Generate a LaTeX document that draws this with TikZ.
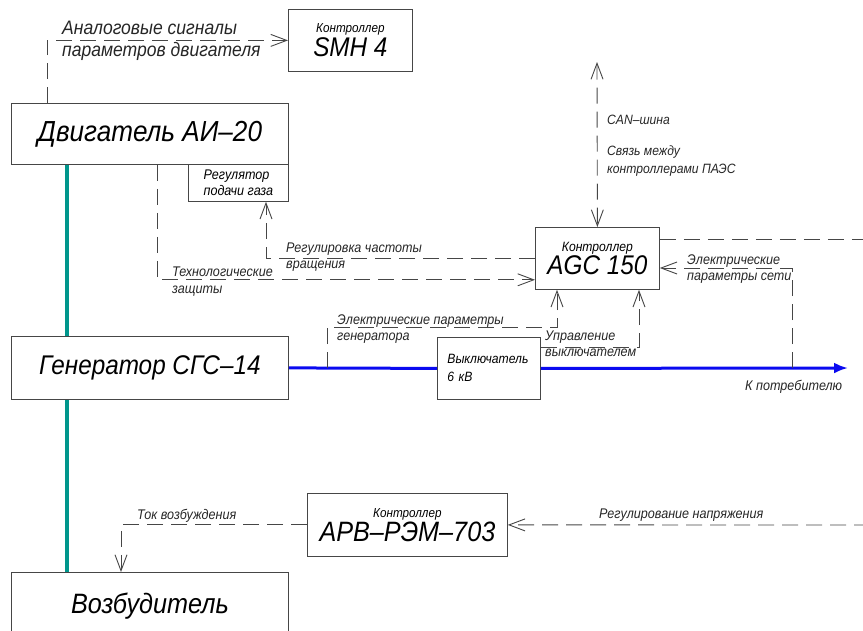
\documentclass[tikz,border=0pt]{standalone}
\usepackage{fontspec}
\setmainfont{Liberation Sans}[FakeStretch=0.9]
\usetikzlibrary{arrows.meta,calc}

\definecolor{linegray}{RGB}{70,70,70}
\definecolor{shaftcol}{RGB}{0,150,140}
\definecolor{buscol}{RGB}{10,10,240}
\newcommand{\setfs}[2]{\fontsize{#1}{#2}\selectfont}

\tikzset{
  box/.style={draw=linegray, line width=0.8pt, anchor=north west, inner sep=0pt, align=center},
  sig/.style={draw=linegray, line width=0.9pt, dash pattern=on 16pt off 8pt},
  barb/.style={-{Straight Barb[length=16pt,width=12pt]}},
  dbarb/.style={{Straight Barb[length=16pt,width=12pt]}-{Straight Barb[length=16pt,width=12pt]}},
  shaft/.style={draw=shaftcol, line width=4.5pt},
  bus/.style={draw=buscol, line width=3pt},
  lbl/.style={anchor=north west, inner sep=0pt, align=left, text=black!85},
}

\begin{document}
\itshape
\begin{tikzpicture}[x=1pt,y=-1pt]
\useasboundingbox (0,0) rectangle (863,630);

% blocks
\node[box, minimum width=124, minimum height=62] (smh) at (288,9) {{\setfs{13}{15}Контроллер}\\[1pt]{\setfs{27}{29}SMH 4}};
\node[box, minimum width=277, minimum height=61, font=\setfs{29}{34}] (eng) at (11,103) {Двигатель АИ–20};
\node[box, minimum width=100, minimum height=37, align=left, font=\setfs{14}{16}] (reg) at (188,164) {Регулятор\\подачи газа};
\node[box, minimum width=124, minimum height=62] (agc) at (535,227) {{\setfs{13.5}{15}Контроллер}\\[0pt]{\setfs{27}{29}AGC 150}};
\node[box, minimum width=277, minimum height=63, font=\setfs{27}{34}] (gen) at (11,336) {Генератор СГС–14};
\node[box, minimum width=103, minimum height=62, align=left, text width=83pt, font=\setfs{13.5}{18}] (brk) at (437,337) {Выключатель\\6 кВ};
\node[box, minimum width=200, minimum height=63] (arv) at (307,493) {{\setfs{13}{15}Контроллер}\\[1pt]{\setfs{28}{30}АРВ–РЭМ–703}};
\node[box, minimum width=277, minimum height=68, font=\setfs{28}{34}] (exc) at (11,572) {Возбудитель};

% free ends
\coordinate (cantop) at (597,62);
\coordinate (netout) at (870,239);
\coordinate (load) at (848,368);
\coordinate (gtap) at (327,368);
\coordinate (gbend) at (327,327);
\coordinate (ntap) at (792,368);
\coordinate (uin) at (870,525);

% shaft and bus
\draw[shaft] ($(eng.south west)+(56,0)$) -- ($(gen.north west)+(56,0)$);
\draw[shaft] ($(gen.south west)+(56,0)$) -- ($(exc.north west)+(56,0)$);
\draw[bus] (gen.east) -- (brk.west);
\draw[bus,-{Latex[length=14pt,width=11pt]}] (brk.east) -- (load);

% signals
\draw[sig,barb] ($(eng.north west)+(36,0)$) |- (smh.west);
\draw[sig,barb] ($(eng.south west)+(146,0)$) |- ($(agc.south west)+(0,-10)$);
\draw[sig,barb] ($(agc.north west)+(0,31)$) -| ($(reg.south west)+(78,0)$);
\draw[sig,dbarb] (cantop) -- (agc.north);
\draw[sig] ($(agc.north east)+(0,12)$) -- (netout);
\draw[sig,barb] (ntap) |- ($(agc.north east)+(0,41)$);
\draw[sig,barb] (gtap) -- (gbend) -| ($(agc.south west)+(22,0)$);
\draw[sig,barb] ($(brk.north east)+(0,10)$) -| ($(agc.south west)+(104,0)$);
\draw[sig,barb] (arv.west) -| ($(exc.north west)+(110,0)$);
\draw[sig,barb] (uin) -- (arv.east);

% labels
\node[lbl, font=\setfs{19.5}{22}] (analog) at (62,21) {Аналоговые сигналы\\параметров двигателя};
\node[lbl, font=\setfs{13.5}{18}] (canlbl) at (607,115) {CAN–шина\\[13pt]Связь между\\контроллерами ПАЭС};
\node[lbl, font=\setfs{14}{16}] (freq) at (286,243) {Регулировка частоты\\вращения};
\node[lbl, font=\setfs{14}{17}] (prot) at (172,267) {Технологические\\защиты};
\node[lbl, font=\setfs{14}{16}] (netpar) at (687,255) {Электрические\\параметры сети};
\node[lbl, font=\setfs{14}{16}] (genpar) at (337,315) {Электрические параметры\\генератора};
\node[lbl, font=\setfs{14}{16}] (ctrl) at (545,331) {Управление\\выключателем};
\node[lbl, font=\setfs{14}{15}] (cons) at (745,380) {К потребителю};
\node[lbl, font=\setfs{14}{15}] (exccur) at (137,509) {Ток возбуждения};
\node[lbl, font=\setfs{14}{15}] (volt) at (599,509) {Регулирование напряжения};
\end{tikzpicture}
\end{document}
